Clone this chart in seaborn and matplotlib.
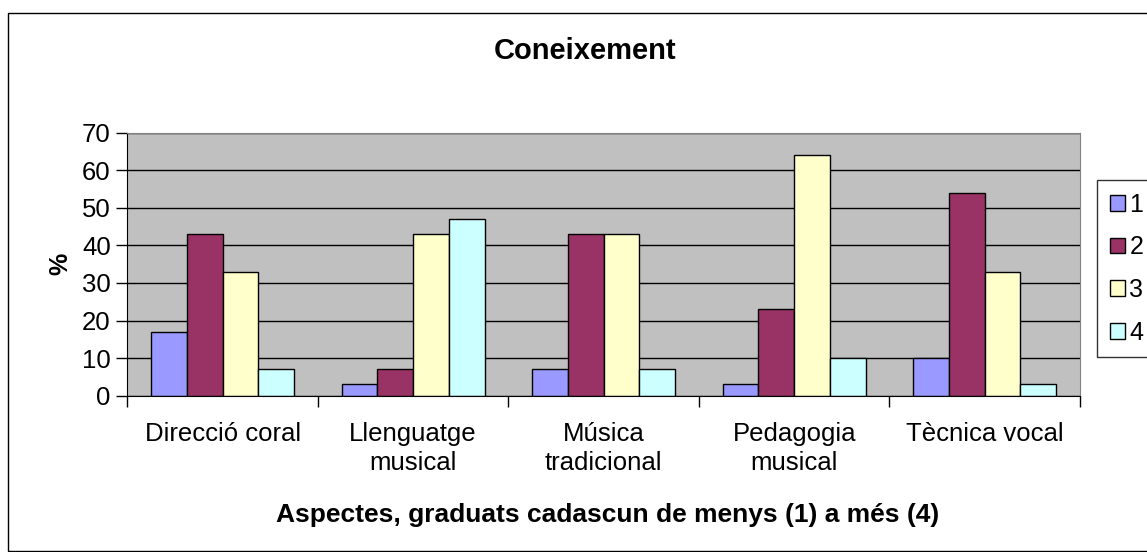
import pandas as pd
import matplotlib.pyplot as plt
import seaborn as sns
from matplotlib.patches import Rectangle

# data (%)
categories = ['Direcció coral', 'Llenguatge\nmusical', 'Música\ntradicional',
              'Pedagogia\nmusical', 'Tècnica vocal']
levels = ['1', '2', '3', '4']
level_1 = [17, 3, 7, 3, 10]
level_2 = [43, 7, 43, 23, 54]
level_3 = [33, 43, 43, 64, 33]
level_4 = [7, 47, 7, 10, 3]
colors = ['#9999FF', '#993366', '#FFFFCC', '#CCFFFF']

rows = []
for lvl, vals in zip(levels, [level_1, level_2, level_3, level_4]):
    for cat, v in zip(categories, vals):
        rows.append({'Aspecte': cat, 'Nivell': lvl, 'Percent': v})
df = pd.DataFrame(rows)

plt.rcParams['font.family'] = ['Liberation Sans', 'DejaVu Sans']

fig = plt.figure(figsize=(11.47, 5.52), dpi=100)
ax = fig.add_axes([127.3 / 1147, 1 - 395.7 / 552, (1080 - 127.3) / 1147, 263 / 552])

sns.barplot(data=df, x='Aspecte', y='Percent', hue='Nivell', order=categories,
            hue_order=levels, palette=colors, width=0.75, edgecolor='black',
            linewidth=1, saturation=1, ax=ax, legend=False)

ax.set_facecolor('#C0C0C0')
ax.set_ylim(0, 70)
ax.set_xlim(-0.5, len(categories) - 0.5)
ax.set_yticks(range(0, 71, 10))
ax.grid(axis='y', color='black', linewidth=1)
ax.set_axisbelow(True)

# tick marks at category boundaries, labels at centres
ax.set_xticks([i - 0.5 for i in range(len(categories) + 1)], minor=True)
ax.tick_params(axis='x', which='minor', length=8, width=1, color='black')
ax.tick_params(axis='x', which='major', length=0, pad=19, labelsize=18.5)
ax.tick_params(axis='y', length=8, width=1, labelsize=18.5, pad=4)
for lbl in ax.get_xticklabels():
    lbl.set_multialignment('center')
    lbl.set_linespacing(1.25)

for s in ['top', 'right']:
    ax.spines[s].set_color('#808080')
for s in ['left', 'bottom']:
    ax.spines[s].set_color('black')

ax.set_xlabel('Aspectes, graduats cadascun de menys (1) a més (4)',
              fontsize=19, fontweight='bold')
ax.xaxis.set_label_coords((608 - 127.3) / (1080 - 127.3), -(522 - 395.7) / 263)
ax.xaxis.label.set_va('baseline')
ax.set_ylabel('%', fontsize=18, fontweight='bold', labelpad=7)
fig.text(585 / 1147, 1 - 59 / 552, 'Coneixement', fontsize=21, fontweight='bold',
         ha='center', va='baseline')

# legend runs past the right edge of the chart, as in the original
handles = [Rectangle((0, 0), 1, 1, facecolor=c, edgecolor='black', linewidth=1)
           for c in colors]
leg = fig.legend(handles, levels, loc='upper left',
                 bbox_to_anchor=(1097 / 1147, 1 - 180 / 552), fontsize=18,
                 frameon=True, fancybox=False, edgecolor='black',
                 handlelength=0.6, handleheight=0.6, handletextpad=0.2,
                 labelspacing=0.75, borderpad=0.5, borderaxespad=0)
leg.get_frame().set_linewidth(1)

# outer frame of the chart
fig.patches.append(Rectangle((8 / 1147, 1 - 551 / 552), 1.2, 538 / 552,
                             transform=fig.transFigure, fill=False,
                             edgecolor='black', linewidth=1))

fig.savefig('out.png', dpi=100)
